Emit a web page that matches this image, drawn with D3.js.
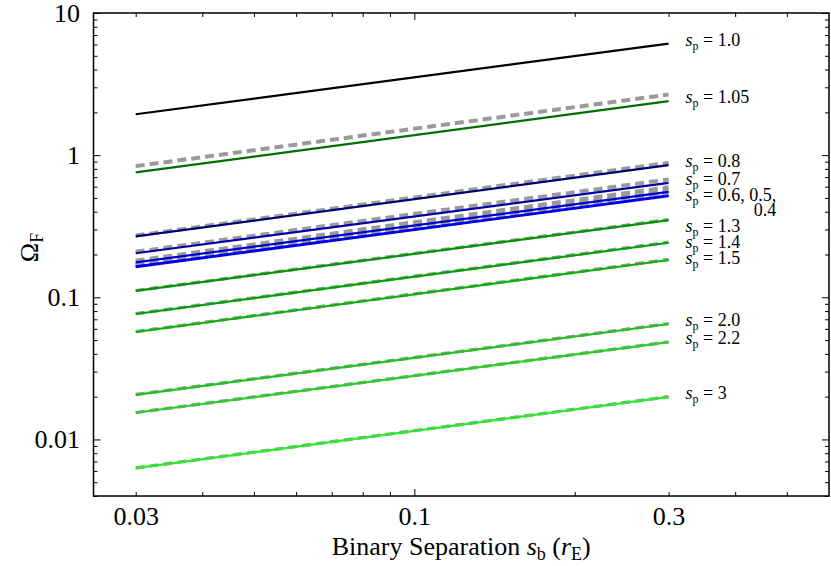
<!DOCTYPE html>
<html>
<head>
<meta charset="utf-8">
<script src="https://cdn.jsdelivr.net/npm/d3@7"></script>
<style>
  body { margin: 0; background: #fff; }
  .tick line { stroke: #000; stroke-width: 1; }
</style>
</head>
<body>
<script>
// s_b endpoints of every curve
var sb = [0.03, 0.3];

// planet separations, top to bottom in the legend order
var sp = ["1.0", "1.05", "0.8", "0.7", "0.6", "0.5", "0.4", "1.3", "1.4", "1.5", "2.0", "2.2", "3"];

// Omega_F read at s_b = 0.03 and s_b = 0.3 (full calculation, solid)
var omegaStart = [1.94, 0.756, 0.268, 0.204, 0.176, 0.165, 0.163, 0.111, 0.0763, 0.0570, 0.0206, 0.0154, 0.00628];
var omegaEnd   = [6.09, 2.40, 0.851, 0.639, 0.552, 0.521, 0.515, 0.349, 0.242, 0.183, 0.0649, 0.0483, 0.0199];

// approximation (grey dashed)
var approxStart = [null, 0.837, 0.272, 0.209, 0.181, 0.170, 0.167, 0.1115, 0.0767, 0.0573, 0.0207, 0.01545, 0.0063];
var approxEnd   = [null, 2.67, 0.883, 0.675, 0.595, 0.565, 0.550, 0.352, 0.244, 0.1845, 0.0652, 0.0485, 0.01997];

// curve labels (null = shares a label)
var labelText = ["1.0", "1.05", "0.8", "0.7", "0.6, 0.5,", null, null, "1.3", "1.4", "1.5", "2.0", "2.2", "3"];
var labelSecond = [null, null, null, null, "0.4", null, null, null, null, null, null, null, null];

var xTicks = [0.03, 0.1, 0.3];
var xMinor = [0.03, 0.04, 0.05, 0.06, 0.07, 0.08, 0.09, 0.2, 0.3, 0.4, 0.5];
var yTicks = [0.01, 0.1, 1, 10];
var yTickLabels = ["0.01", "0.1", "1", "10"];

var lineColors = ["#000000", "#006e00", "#000078", "#0000a8", "#0000d0", "#0000e6", "#0000f0",
                  "#009600", "#00a400", "#08b408", "#20c420", "#26d026", "#28ec28"];

var serif = '"Liberation Serif", "DejaVu Serif", serif';

var margin = {top: 13, right: 2, bottom: 70, left: 93.5};
var W = 831, H = 566;
var width = W - margin.left - margin.right,
    height = H - margin.top - margin.bottom;

var svg = d3.select("body").append("svg")
    .attr("width", W).attr("height", H)
  .append("g")
    .attr("transform", "translate(" + margin.left + "," + margin.top + ")");

var x = d3.scaleLog().domain([0.025, 0.6]).range([0, width]);
var y = d3.scaleLog().domain([0.004, 10]).range([height, 0]);

// minor y ticks: 2..9 of each decade inside the domain
var yMinor = [];
[0.001, 0.01, 0.1, 1].forEach(function(dec) {
    for (var k = 2; k <= 9; k++) {
        var v = +(dec * k).toPrecision(3);
        if (v >= 0.004 && v < 10) yMinor.push(v);
    }
});

function tickAxis(axis, g) {
    g.call(axis);
    g.select(".domain").remove();
}

// minor and major ticks on all four sides, pointing inwards
tickAxis(d3.axisBottom(x).tickValues(xMinor).tickSize(-4).tickFormat(""),
    svg.append("g").attr("transform", "translate(0," + height + ")"));
tickAxis(d3.axisBottom(x).tickValues([0.1]).tickSize(-7).tickFormat(""),
    svg.append("g").attr("transform", "translate(0," + height + ")"));
tickAxis(d3.axisTop(x).tickValues(xMinor).tickSize(-4).tickFormat(""), svg.append("g"));
tickAxis(d3.axisTop(x).tickValues([0.1]).tickSize(-7).tickFormat(""), svg.append("g"));

tickAxis(d3.axisLeft(y).tickValues(yMinor).tickSize(-4).tickFormat(""), svg.append("g"));
tickAxis(d3.axisLeft(y).tickValues(yTicks).tickSize(-7).tickFormat(""), svg.append("g"));
tickAxis(d3.axisRight(y).tickValues(yMinor).tickSize(-4).tickFormat(""),
    svg.append("g").attr("transform", "translate(" + width + ",0)"));
tickAxis(d3.axisRight(y).tickValues(yTicks).tickSize(-7).tickFormat(""),
    svg.append("g").attr("transform", "translate(" + width + ",0)"));

// tick labels
var xLab = svg.append("g").attr("transform", "translate(0," + height + ")");
tickAxis(d3.axisBottom(x).tickValues(xTicks).tickSize(0).tickFormat(function(d) { return String(d); }), xLab);
xLab.selectAll(".tick text").attr("y", 29).attr("dy", null);

var yLab = svg.append("g");
tickAxis(d3.axisLeft(y).tickValues(yTicks).tickSize(0).tickPadding(13.5)
    .tickFormat(function(d, i) { return yTickLabels[i]; }), yLab);

[xLab, yLab].forEach(function(g) {
    g.attr("font-family", null).attr("font-size", null);
    g.selectAll("text").style("font-family", serif).style("font-size", "26px").attr("fill", "#000");
});

// frame
svg.append("rect")
    .attr("width", width).attr("height", height)
    .attr("fill", "none").attr("stroke", "#000").attr("stroke-width", 1.5);

var line = d3.line()
    .x(function(d) { return x(d[0]); })
    .y(function(d) { return y(d[1]); });

// grey dashed approximation under the solid curves
sp.forEach(function(s, i) {
    if (approxStart[i] == null) return;
    svg.append("path")
        .datum([[sb[0], approxStart[i]], [sb[1], approxEnd[i]]])
        .attr("d", line)
        .attr("fill", "none")
        .attr("stroke", "#9a9a9a")
        .attr("stroke-width", i < 7 ? 4 : 3.4)
        .attr("stroke-dasharray", "9,5");
});

sp.forEach(function(s, i) {
    svg.append("path")
        .datum([[sb[0], omegaStart[i]], [sb[1], omegaEnd[i]]])
        .attr("d", line)
        .attr("fill", "none")
        .attr("stroke", lineColors[i])
        .attr("stroke-width", 2.2);
});

// labels at the right ends, pushed down where they would overlap
var labX = x(sb[1]) + 17;
var lastY = -100, gap = 16;
var order = d3.range(sp.length).filter(function(i) { return labelText[i] != null; })
    .sort(function(a, b) { return omegaEnd[b] - omegaEnd[a]; });

order.forEach(function(i) {
    var by = Math.max(y(omegaEnd[i]) + 2, lastY + gap);
    var t = svg.append("text")
        .attr("x", labX).attr("y", by)
        .style("font-family", serif)
        .style("font-size", "18px");
    t.append("tspan").style("font-style", "italic").text("s");
    t.append("tspan").attr("dy", 4).style("font-size", "12px").text("p");
    t.append("tspan").attr("dy", -4).text(" = " + labelText[i]);
    lastY = by;
    if (labelSecond[i]) {
        var endX = labX + t.node().getComputedTextLength();
        lastY = by + 15.5;
        svg.append("text")
            .attr("x", endX).attr("y", lastY)
            .attr("text-anchor", "end")
            .style("font-family", serif)
            .style("font-size", "18px")
            .text(labelSecond[i]);
    }
});

// axis titles
var xt = svg.append("text")
    .attr("x", width / 2).attr("y", height + 59)
    .attr("text-anchor", "middle")
    .style("font-family", serif)
    .style("font-size", "26px");
xt.append("tspan").text("Binary Separation ");
xt.append("tspan").style("font-style", "italic").text("s");
xt.append("tspan").attr("dy", 5).style("font-size", "18px").text("b");
xt.append("tspan").attr("dy", -5).text(" (");
xt.append("tspan").style("font-style", "italic").text("r");
xt.append("tspan").attr("dy", 5).style("font-size", "18px").text("E");
xt.append("tspan").attr("dy", -5).text(")");

var yt = svg.append("text")
    .attr("transform", "translate(" + (-margin.left + 38) + "," + (height / 2 - 7) + ") rotate(-90)")
    .attr("text-anchor", "middle")
    .style("font-family", serif)
    .style("font-size", "26px");
yt.append("tspan").text("\u03A9");
yt.append("tspan").attr("dy", 5).style("font-size", "18px").text("F");
</script>
</body>
</html>
